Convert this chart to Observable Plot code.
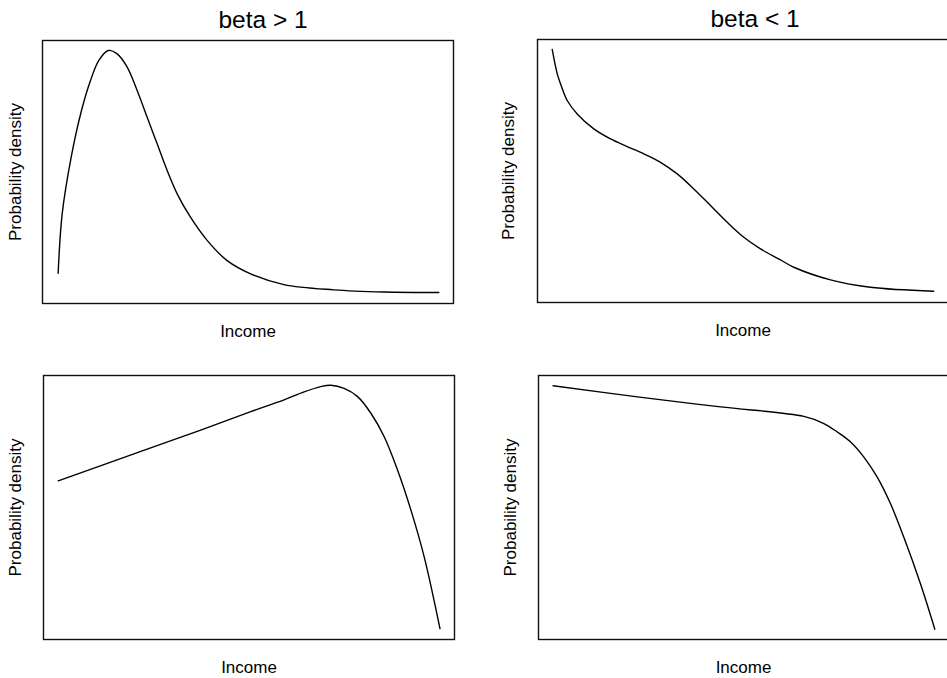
<!DOCTYPE html>
<html><head><meta charset="utf-8">
<script src="https://cdn.jsdelivr.net/npm/d3@7"></script>
<script src="https://cdn.jsdelivr.net/npm/@observablehq/plot@0.6"></script>
<style>
html,body{margin:0;padding:0;background:#fff;overflow:hidden;}
#wrap{position:relative;width:947px;height:678px;overflow:hidden;background:#fff;}
.panel{position:absolute;}
.panel svg{font-family:"Liberation Sans",Arial,Helvetica,sans-serif;max-width:none !important;}
</style></head><body><div id="wrap"></div>
<script>
// Titles and labels
const titles = ["beta > 1", "beta < 1"];
const xLabel = "Income";
const yLabel = "Probability density";

// Top-left: beta > 1 (upper panel) — income vs density (relative units 0–100)
const tlIncome  = [3.81, 4.79, 6.97, 9.49, 11.68, 13.71, 15.98, 18.17, 20.60, 23.03, 25.47, 27.90, 30.33, 32.77, 36.01, 40.06, 44.93, 50.61, 58.72, 70.88, 83.05, 96.43];
const tlDensity = [11.5, 34.1, 55.6, 73.4, 84.8, 92.4, 96.2, 94.9, 89.9, 81.0, 70.8, 60.7, 50.6, 41.7, 32.8, 24.0, 16.3, 11.3, 7.2, 5.2, 4.4, 4.2];

// Top-right: beta < 1 (upper panel)
const trIncome  = [3.58, 4.79, 5.60, 7.23, 9.66, 13.70, 17.76, 21.82, 25.86, 29.93, 33.99, 38.03, 42.09, 46.16, 50.19, 54.26, 59.12, 62.36, 71.3, 81.0, 96.4];
const trDensity = [96.2, 87.0, 83.2, 76.8, 71.7, 66.0, 62.2, 59.3, 56.5, 53.3, 48.9, 43.2, 36.9, 30.5, 24.8, 20.4, 16.2, 13.4, 8.6, 5.8, 4.3];

// Bottom-left: beta > 1 (lower panel)
const blIncome  = [3.58, 22.0, 38.25, 50.43, 58.54, 63.41, 67.48, 69.92, 73.15, 76.42, 79.66, 82.90, 86.16, 89.40, 92.64, 96.47];
const blDensity = [60.1, 70.3, 79.3, 86.3, 90.8, 93.8, 95.8, 96.3, 95.1, 92.0, 85.7, 76.8, 64.1, 49.0, 31.2, 4.1];

// Bottom-right: beta < 1 (lower panel)
const brIncome  = [3.56, 24.13, 44.43, 64.73, 69.61, 72.87, 76.12, 79.36, 82.62, 85.86, 89.11, 93.18, 96.66];
const brDensity = [96.1, 91.9, 88.1, 84.5, 81.8, 78.6, 74.8, 69.1, 61.5, 51.4, 38.7, 21.0, 3.9];

const wrap = document.getElementById("wrap");

function panel({left, top, width, height, mL, mR, mT, mB, income, density, title, titleDx, yDx}) {
  const data = income.map((x, i) => ({x, y: density[i]}));
  const marks = [
    Plot.frame({stroke: "#111", strokeWidth: 1.4}),
    Plot.line(data, {x: "x", y: "y", curve: "catmull-rom", stroke: "#000", strokeWidth: 1.4}),
    Plot.text([xLabel], {frameAnchor: "bottom", textAnchor: "middle", lineAnchor: "bottom", dy: 33, fontSize: 17, fill: "#000"}),
    Plot.text([yLabel], {frameAnchor: "left", textAnchor: "middle", lineAnchor: "bottom", rotate: -90, dx: yDx, fontSize: 17, fill: "#000"})
  ];
  if (title) {
    marks.push(Plot.text([title], {frameAnchor: "top", textAnchor: "middle", lineAnchor: "bottom", dy: -13, dx: titleDx, fontSize: 24.5, fill: "#000"}));
  }
  const chart = Plot.plot({
    width, height,
    marginLeft: mL, marginRight: mR, marginTop: mT, marginBottom: mB,
    x: {domain: [0, 100], axis: null},
    y: {domain: [0, 100], axis: null},
    style: {background: "transparent", overflow: "visible", maxWidth: "none"},
    marks
  });
  const div = document.createElement("div");
  div.className = "panel";
  div.style.left = left + "px";
  div.style.top = top + "px";
  div.style.width = width + "px";
  div.style.height = height + "px";
  div.appendChild(chart);
  wrap.appendChild(div);
}

panel({left: 0, top: 0, width: 473, height: 339, mL: 42, mR: 20, mT: 40, mB: 36,
  income: tlIncome, density: tlDensity, title: titles[0], titleDx: 15, yDx: -22});
panel({left: 473, top: 0, width: 480, height: 339, mL: 64, mR: 5, mT: 39, mB: 37,
  income: trIncome, density: trDensity, title: titles[1], titleDx: 12, yDx: -24});
panel({left: 0, top: 339, width: 473, height: 339, mL: 43, mR: 19, mT: 36, mB: 39,
  income: blIncome, density: blDensity, title: null, titleDx: 0, yDx: -23});
panel({left: 473, top: 339, width: 480, height: 339, mL: 65, mR: 5, mT: 36, mB: 39,
  income: brIncome, density: brDensity, title: null, titleDx: 0, yDx: -23});
</script>
</body></html>
